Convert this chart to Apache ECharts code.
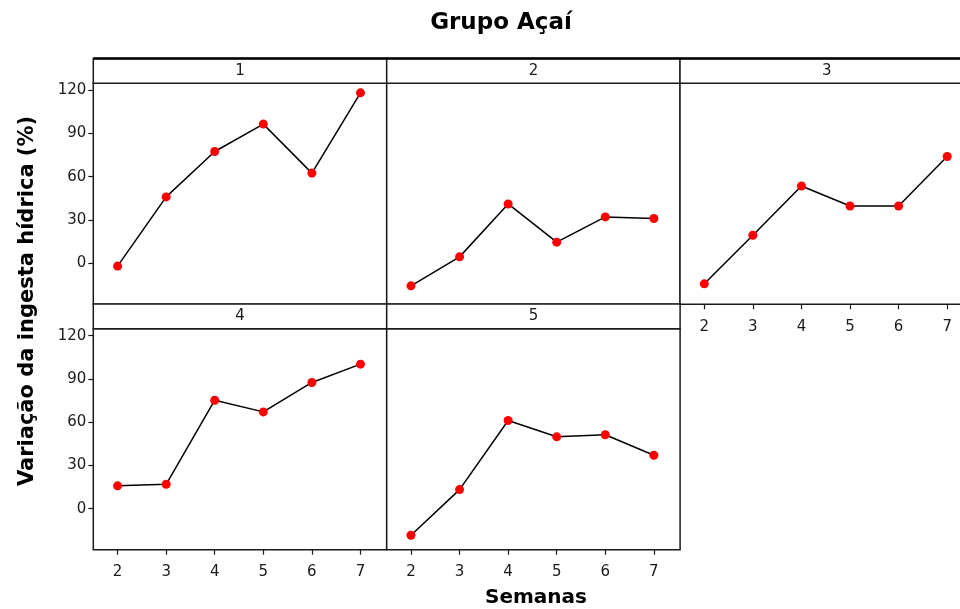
<!DOCTYPE html>
<html>
<head>
<meta charset="utf-8">
<script src="https://cdn.jsdelivr.net/npm/echarts@6/dist/echarts.min.js"></script>
<style>
  html, body { margin: 0; padding: 0; background: #fff; }
  #chart { width: 960px; height: 609px; }
</style>
</head>
<body>
<div id="chart"></div>
<script>
// Weekly change in water intake (%) per subject, Açaí group
const semanas = [2, 3, 4, 5, 6, 7];
const paineis = ['1', '2', '3', '4', '5'];
const grupo1 = [-2.0, 46.0, 77.5, 96.5, 62.5, 118.2];
const grupo2 = [-15.7, 4.4, 41.1, 14.6, 32.1, 31.0];
const grupo3 = [-14.3, 19.4, 53.6, 39.7, 39.7, 74.0];
const grupo4 = [15.8, 16.9, 75.2, 67.1, 87.5, 100.2];
const grupo5 = [-18.5, 13.2, 61.1, 49.8, 51.2, 37.0];
const yTicks = [0, 30, 60, 90, 120];

const series = [grupo1, grupo2, grupo3, grupo4, grupo5];

// panel layout (pixels)
const colLeft = [93.3, 386.7, 680];
const colW = 293.4;
const rowTop = [83.3, 328.7];
const rowH = 221;
const stripH = 24.7;
const cells = [[0, 0], [0, 1], [0, 2], [1, 0], [1, 1]];
const fontFam = '"DejaVu Sans", Verdana, sans-serif';
const frameColor = '#1a1a1a';

const grids = [], xAxes = [], yAxes = [], seriesOpts = [], graphics = [];

cells.forEach(([r, c], i) => {
  const left = colLeft[c], top = rowTop[r];
  grids.push({
    left: left, top: top, width: colW, height: rowH,
    outerBoundsMode: 'none', containLabel: false,
    show: true, borderColor: frameColor, borderWidth: 1.5, backgroundColor: '#fff'
  });
  const showX = (r === 1) || (c === 2);
  const showY = (c === 0);
  xAxes.push({
    type: 'value', gridIndex: i, min: 1.5, max: 7.54, position: 'bottom',
    axisLine: { show: false, onZero: false },
    splitLine: { show: false },
    axisTick: { show: showX, length: 5, inside: false, customValues: semanas,
                lineStyle: { color: frameColor, width: 1.2 } },
    axisLabel: { show: showX, customValues: semanas, margin: 15,
                 color: '#1a1a1a', fontSize: 15, fontFamily: fontFam }
  });
  yAxes.push({
    type: 'value', gridIndex: i, min: -28.5, max: 124.8, position: 'left',
    axisLine: { show: false, onZero: false },
    splitLine: { show: false },
    axisTick: { show: showY, length: 5, inside: false, customValues: yTicks,
                lineStyle: { color: frameColor, width: 1.2 } },
    axisLabel: { show: showY, customValues: yTicks, margin: 7,
                 color: '#1a1a1a', fontSize: 15, fontFamily: fontFam }
  });
  seriesOpts.push({
    type: 'line', xAxisIndex: i, yAxisIndex: i,
    data: semanas.map((s, k) => [s, series[i][k]]),
    symbol: 'circle', symbolSize: 9,
    itemStyle: { color: '#ff0000' },
    lineStyle: { color: '#000', width: 1.5 },
    z: 3
  });
  // panel header strip
  graphics.push({
    type: 'rect',
    shape: { x: left, y: top - stripH, width: colW, height: stripH },
    style: { fill: '#fff', stroke: frameColor, lineWidth: 1.5 },
    z: 10
  });
  graphics.push({
    type: 'text',
    x: left + colW / 2, y: top - stripH / 2,
    style: { text: paineis[i], fill: '#1a1a1a', font: '15px ' + fontFam,
             textAlign: 'center', textVerticalAlign: 'middle' },
    z: 11
  });
});

// thicker outer top edge of the header row
graphics.push({
  type: 'line',
  shape: { x1: colLeft[0], y1: rowTop[0] - stripH, x2: 960, y2: rowTop[0] - stripH },
  style: { stroke: '#000', lineWidth: 2.5 },
  z: 12
});

const chart = echarts.init(document.getElementById('chart'), null, { renderer: 'canvas' });
chart.setOption({
  animation: false,
  backgroundColor: '#fff',
  title: [
    { text: 'Grupo Açaí', left: 496, top: 7, textAlign: 'center',
      textStyle: { fontSize: 23, fontWeight: 'bold', color: '#000', fontFamily: fontFam } },
    { text: 'Semanas', left: 531, top: 583, textAlign: 'center',
      textStyle: { fontSize: 20, fontWeight: 'bold', color: '#000', fontFamily: fontFam } }
  ],
  graphic: graphics.concat([{
    type: 'text',
    x: 28, y: 301, rotation: Math.PI / 2,
    style: { text: 'Variação da ingesta hídrica (%)', fill: '#000',
             font: 'bold 21px ' + fontFam, textAlign: 'center', textVerticalAlign: 'middle' }
  }]),
  grid: grids,
  xAxis: xAxes,
  yAxis: yAxes,
  series: seriesOpts
});
</script>
</body>
</html>
